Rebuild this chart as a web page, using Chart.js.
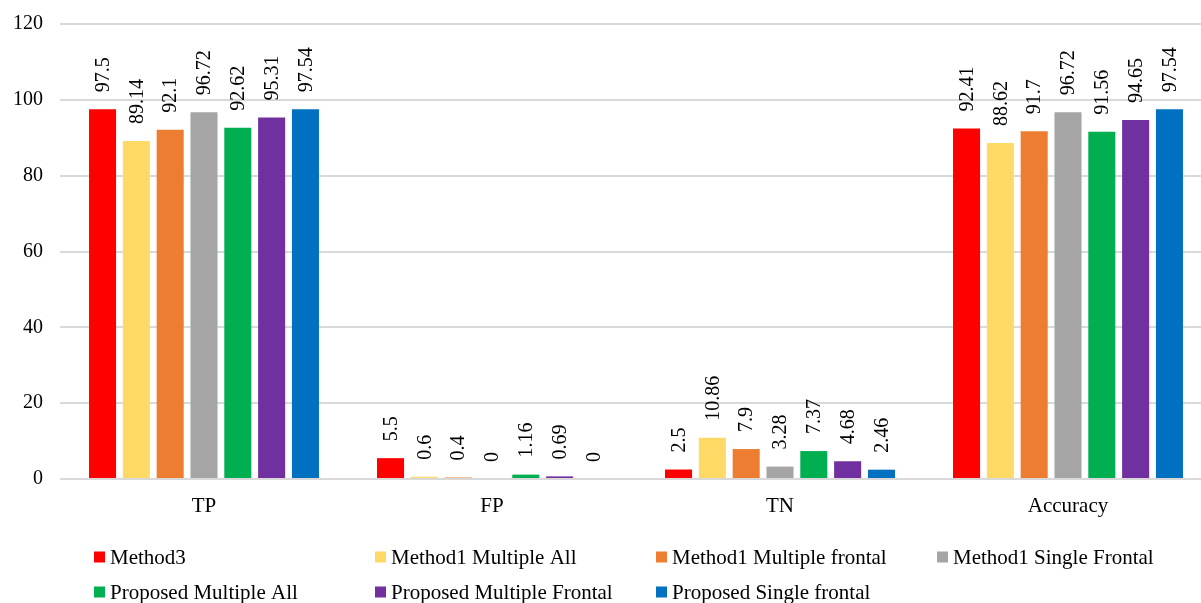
<!DOCTYPE html>
<html>
<head>
<meta charset="utf-8">
<script src="https://cdn.jsdelivr.net/npm/chart.js@4/dist/chart.umd.min.js"></script>
<style>
  html, body { margin: 0; padding: 0; background: #fff; overflow: hidden; }
  #wrap { position: relative; width: 1212px; height: 603px; }
</style>
</head>
<body>
<div id="wrap"><canvas id="chart"></canvas></div>
<script>
const categories = ['TP', 'FP', 'TN', 'Accuracy'];

const seriesNames = [
  'Method3',
  'Method1 Multiple All',
  'Method1 Multiple frontal',
  'Method1 Single Frontal',
  'Proposed Multiple All',
  'Proposed Multiple Frontal',
  'Proposed Single frontal'
];

const method3 = [97.5, 5.5, 2.5, 92.41];
const method1MultipleAll = [89.14, 0.6, 10.86, 88.62];
const method1MultipleFrontal = [92.1, 0.4, 7.9, 91.7];
const method1SingleFrontal = [96.72, 0, 3.28, 96.72];
const proposedMultipleAll = [92.62, 1.16, 7.37, 91.56];
const proposedMultipleFrontal = [95.31, 0.69, 4.68, 94.65];
const proposedSingleFrontal = [97.54, 0, 2.46, 97.54];

const yMin = 0, yMax = 120, yStep = 20;

const seriesValues = [
  method3, method1MultipleAll, method1MultipleFrontal, method1SingleFrontal,
  proposedMultipleAll, proposedMultipleFrontal, proposedSingleFrontal
];
const seriesColors = ['#FF0000', '#FFD966', '#ED7D31', '#A5A5A5', '#00B050', '#7030A0', '#0070C0'];

const FONT = '"Liberation Serif", "Times New Roman", serif';

// Rotated value labels above each bar
const valueLabels = {
  id: 'valueLabels',
  afterDatasetsDraw(chart) {
    const ctx = chart.ctx;
    ctx.save();
    ctx.font = '20px ' + FONT;
    ctx.fillStyle = '#000';
    ctx.textAlign = 'left';
    ctx.textBaseline = 'middle';
    chart.data.datasets.forEach((ds, i) => {
      const meta = chart.getDatasetMeta(i);
      meta.data.forEach((bar, j) => {
        ctx.save();
        ctx.translate(bar.x, bar.y - 17);
        ctx.rotate(-Math.PI / 2);
        ctx.fillText(String(ds.data[j]), 0, 1);
        ctx.restore();
      });
    });
    ctx.restore();
  }
};

// Legend laid out as a four-column grid under the plot
const gridLegend = {
  id: 'gridLegend',
  afterDraw(chart) {
    const ctx = chart.ctx;
    const colX = [94, 375, 656, 937];
    const rowY = [557, 592];
    ctx.save();
    ctx.font = '21px ' + FONT;
    ctx.textAlign = 'left';
    ctx.textBaseline = 'middle';
    chart.data.datasets.forEach((ds, i) => {
      const x = colX[i % 4];
      const y = rowY[Math.floor(i / 4)];
      ctx.fillStyle = ds.backgroundColor;
      ctx.fillRect(x, y - 5.5, 11, 11);
      ctx.fillStyle = '#000';
      ctx.fillText(ds.label, x + 16, y + 1);
    });
    ctx.restore();
  }
};

new Chart(document.getElementById('chart'), {
  type: 'bar',
  data: {
    labels: categories,
    datasets: seriesNames.map((name, i) => ({
      label: name,
      data: seriesValues[i],
      backgroundColor: seriesColors[i],
      borderWidth: 0,
      categoryPercentage: 0.822,
      barPercentage: 0.8
    }))
  },
  options: {
    responsive: true,
    maintainAspectRatio: false,
    animation: false,
    layout: { padding: { top: 24, right: 0, left: 0, bottom: 0 } },
    plugins: {
      legend: { display: false },
      tooltip: { enabled: false }
    },
    scales: {
      x: {
        grid: { display: false, drawTicks: false },
        border: { display: false },
        ticks: { color: '#000', font: { family: FONT, size: 21 }, padding: 15 },
        afterFit(scale) { scale.height = 124; scale.paddingLeft = 0; scale.paddingRight = 0; }
      },
      y: {
        min: yMin,
        max: yMax,
        grid: { color: '#d9d9d9', lineWidth: 2, drawTicks: false },
        border: { display: false },
        ticks: { stepSize: yStep, color: '#000', font: { family: FONT, size: 20 }, padding: 17 },
        afterFit(scale) { scale.width = 60; scale.paddingTop = 0; scale.paddingBottom = 0; }
      }
    }
  },
  plugins: [valueLabels, gridLegend]
});
</script>
</body>
</html>
